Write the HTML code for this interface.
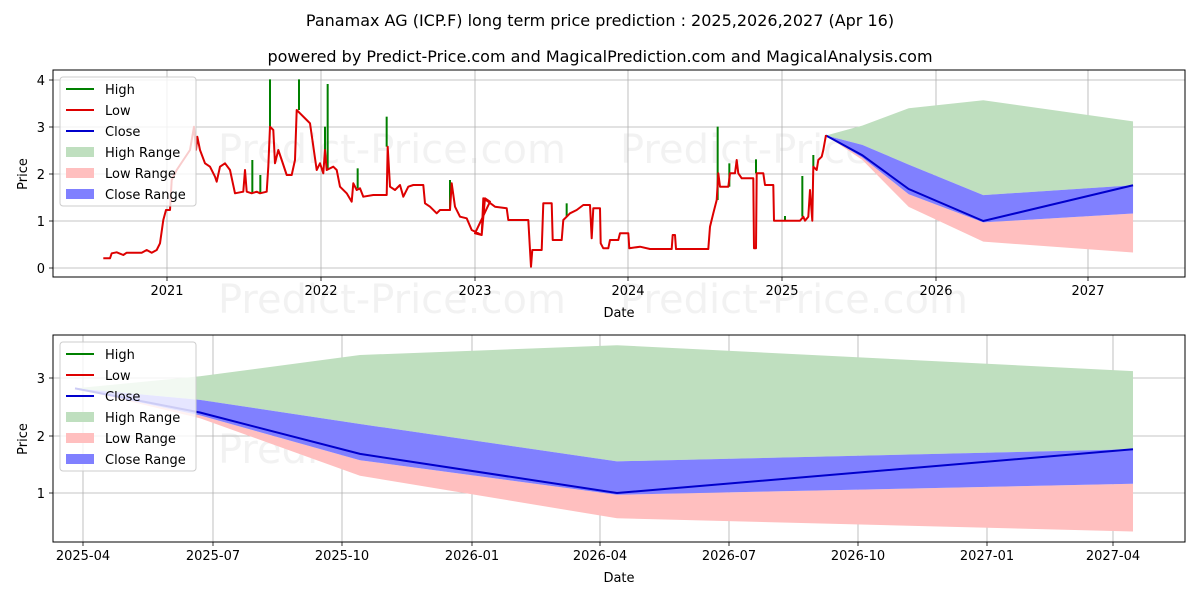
<!DOCTYPE html>
<html><head><meta charset="utf-8"><style>
body{margin:0;background:#fff;}
svg{display:block;font-family:"DejaVu Sans","Liberation Sans",sans-serif;}
</style></head><body>
<svg id="s" width="1200" height="600" xmlns="http://www.w3.org/2000/svg">
<rect width="1200" height="600" fill="#fff"/>
<text x="600" y="26" font-size="16" text-anchor="middle">Panamax AG (ICP.F) long term price prediction : 2025,2026,2027 (Apr 16)</text>
<text x="600" y="62" font-size="16" text-anchor="middle">powered by Predict-Price.com and MagicalPrediction.com and MagicalAnalysis.com</text>
<g font-size="40" fill="#000" fill-opacity="0.05">
<text x="218" y="163">Predict-Price.com</text><text x="620" y="163">Predict-Price.com</text>
<text x="218" y="313">Predict-Price.com</text><text x="620" y="313">Predict-Price.com</text>
<text x="218" y="463">Predict-Price.com</text><text x="620" y="463">Predict-Price.com</text>
</g>
<g id="gtop"></g><g id="gbot"></g>
</svg>
<script>
(function(){
var NS="http://www.w3.org/2000/svg";
function el(p,t,a,txt){var e=document.createElementNS(NS,t);for(var k in a)e.setAttribute(k,a[k]);if(txt!=null)e.textContent=txt;p.appendChild(e);return e;}
var gt=document.getElementById('gtop'),gb=document.getElementById('gbot');
var S=document.getElementById('s');
var T={l:53,r:1185,t:70,b:277},B={l:53,r:1185,t:335,b:542};
function grid(g,A,xs,ys){xs.forEach(function(x){el(g,'line',{x1:x[0],x2:x[0],y1:A.t,y2:A.b,stroke:'#b0b0b0','stroke-width':0.8});el(g,'line',{x1:x[0],x2:x[0],y1:A.b,y2:A.b+4,stroke:'#000','stroke-width':0.8});el(g,'text',{x:x[0],y:A.b+18,'font-size':13,'text-anchor':'middle'},x[1]);});
ys.forEach(function(y){el(g,'line',{x1:A.l,x2:A.r,y1:y[0],y2:y[0],stroke:'#b0b0b0','stroke-width':0.8});el(g,'line',{x1:A.l-4,x2:A.l,y1:y[0],y2:y[0],stroke:'#000','stroke-width':0.8});el(g,'text',{x:A.l-8,y:y[0]+5,'font-size':13,'text-anchor':'end'},y[1]);});}
grid(gt,T,[[167,'2021'],[321,'2022'],[475,'2023'],[628,'2024'],[782,'2025'],[936,'2026'],[1088,'2027']],[[268,'0'],[221,'1'],[174,'2'],[127,'3'],[80,'4']]);
grid(gb,B,[[83,'2025-04'],[213,'2025-07'],[342,'2025-10'],[472,'2026-01'],[600,'2026-04'],[729,'2026-07'],[858,'2026-10'],[987,'2027-01'],[1113,'2027-04']],[[493,'1'],[436,'2'],[378,'3']]);
var xb=[75,200,360,617,1133];
var H=[2.82,3.03,3.40,3.57,3.12],CU=[2.82,2.62,2.2,1.55,1.76],C=[2.82,2.4,1.68,1.0,1.76],CL=[2.82,2.35,1.57,0.97,1.16],L=[2.82,2.3,1.3,0.56,0.33];
function band(g,fx,fy,a,b,col){var p=[];for(var i=0;i<a.length;i++)p.push(fx(xb[i])+','+fy(a[i]));for(var i=b.length-1;i>=0;i--)p.push(fx(xb[i])+','+fy(b[i]));el(g,'polygon',{points:p.join(' '),fill:col});}
function fc(g,fx,fy){band(g,fx,fy,H,CU,'#bfdfbf');band(g,fx,fy,CL,L,'#ffbfbf');band(g,fx,fy,CU,CL,'#8080ff');
var p=[];for(var i=0;i<C.length;i++)p.push(fx(xb[i])+','+fy(C[i]));el(g,'polyline',{points:p.join(' '),fill:'none',stroke:'#0000cc','stroke-width':2});}
fc(gb,function(x){return x},function(v){return 550.5-57.5*v});
fc(gt,function(x){return 826+(x-75)*0.2902},function(v){return 268-47*v});
var z4=[[40,565],[60,565],[65,550],[80,547],[100,555],[110,548],[155,548],[170,540],[185,548],[200,540],[210,520],[220,450],[228,420],[240,420],[245,330],[260,300],[300,240],[312,170],[318,240],[322,200],[330,240],[345,280],[360,290],[375,320],[380,335],[390,290],[405,280],[420,300],[435,370],[460,365],[465,300],[470,365],[485,370],[500,365],[510,370],[530,365],[535,290],[540,170],[550,180],[555,280],[565,240],[575,270],[590,315],[605,315],[615,270],[620,120],[630,130],[650,150],[660,160],[680,300],[690,280],[700,310],[705,240],[710,300],[730,290],[740,300],[750,350],[770,370],[785,395],[790,340],[800,360],[810,355],[820,380],[850,375],[890,375],[893,230],[900,350],[915,360],[930,345],[940,380],[955,350],[970,345],[1000,345],[1005,400],[1020,410],[1040,430],[1050,420],[1080,420],[1085,340],[1095,410],[1110,440],[1130,445],[1145,480],[1175,495],[1185,385],[1200,395]];
var z5=[[15,490],[35,495],[40,385],[55,395],[75,410],[110,415],[115,450],[175,450],[180,540],[183,590],[187,540],[215,540],[220,400],[245,400],[248,510],[275,510],[280,450],[290,440],[300,430],[320,420],[340,405],[360,405],[365,505],[370,415],[390,415],[392,520],[400,535],[415,535],[420,510],[445,510],[450,490],[475,490],[478,535],[510,530],[540,537],[605,537],[608,495],[615,495],[618,537],[715,537],[720,470],[730,430],[740,390],[745,310],[750,350],[775,350],[780,310],[795,310],[800,270],[805,310],[815,325],[850,325],[852,535],[858,535],[860,310],[880,310],[885,345],[910,345],[912,452],[990,452],[1000,440],[1005,452],[1015,440],[1020,360],[1027,452],[1030,290],[1040,300],[1045,270],[1055,260],[1060,240],[1068,195]];
var pts=[];z4.forEach(function(p){pts.push((90+p[0]/3).toFixed(1)+','+(70+p[1]/3).toFixed(1))});z5.forEach(function(p){pts.push((470+p[0]/3).toFixed(1)+','+(70+p[1]/3).toFixed(1))});
var g4=[[487,270,370],[511,315,370],[540,28,170],[627,28,120],[705,170,240],[713,42,300],[803,295,355],[890,140,230],[1080,330,420]];
g4.forEach(function(s){var x=90+s[0]/3;el(gt,'line',{x1:x,x2:x,y1:70+s[1]/3,y2:70+s[2]/3,stroke:'#008000','stroke-width':2});});
var g5=[[290,400,440],[743,170,390],[778,280,350],[858,268,310],[997,318,440],[1030,255,290],[945,438,452]];
g5.forEach(function(s){var x=470+s[0]/3;el(gt,'line',{x1:x,x2:x,y1:70+s[1]/3,y2:70+s[2]/3,stroke:'#008000','stroke-width':2});});
el(gt,'polyline',{points:pts.join(' '),fill:'none',stroke:'#dd0000','stroke-width':2,'stroke-linejoin':'round'});
[T,B].forEach(function(A){el(S,'rect',{x:A.l,y:A.t,width:A.r-A.l,height:A.b-A.t,fill:'none',stroke:'#000','stroke-width':1});});
el(S,'text',{x:619,y:317,'font-size':13,'text-anchor':'middle'},'Date');
el(S,'text',{x:619,y:582,'font-size':13,'text-anchor':'middle'},'Date');
el(S,'text',{x:27,y:174,'font-size':13,'text-anchor':'middle',transform:'rotate(-90 27 174)'},'Price');
el(S,'text',{x:27,y:439,'font-size':13,'text-anchor':'middle',transform:'rotate(-90 27 439)'},'Price');
function legend(y0){el(S,'rect',{x:60,y:y0,width:136,height:129,rx:3,fill:'#fff','fill-opacity':0.8,stroke:'#ccc'});
var it=[['High','l','#008000'],['Low','l','#dd0000'],['Close','l','#0000cc'],['High Range','f','#bfdfbf'],['Low Range','f','#ffbfbf'],['Close Range','f','#8080ff']];
it.forEach(function(d,i){var y=y0+12+i*21;if(d[1]=='l')el(S,'line',{x1:66,x2:94,y1:y,y2:y,stroke:d[2],'stroke-width':2});else el(S,'rect',{x:66,y:y-5,width:28,height:10,fill:d[2]});
el(S,'text',{x:105,y:y+5,'font-size':13},d[0]);});}
legend(77);legend(342);
})();
</script>
</body></html>
